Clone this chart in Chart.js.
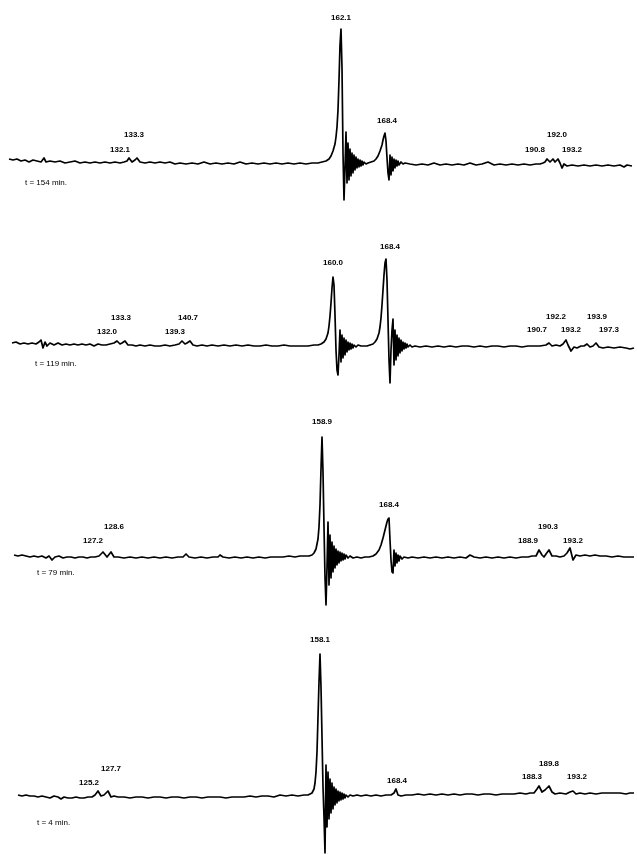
<!DOCTYPE html>
<html lang="en">
<head>
  <meta charset="utf-8">
  <title>Spectra at t = 154, 119, 79, 4 min</title>
  <script src="https://cdn.jsdelivr.net/npm/chart.js@4/dist/chart.umd.min.js"></script>
  <style>
    body { margin: 0; background: #fff; }
    #wrap { position: relative; width: 637px; height: 854px; overflow: hidden; }
    #wrap canvas { position: absolute; left: 0; }
  </style>
</head>
<body>
<div id="wrap">
  <canvas id="s154" width="640" height="214" style="top:0px"></canvas>
  <canvas id="s119" width="640" height="200" style="top:214px"></canvas>
  <canvas id="s79" width="640" height="206" style="top:414px"></canvas>
  <canvas id="s4" width="640" height="234" style="top:620px"></canvas>
</div>
<script>
  // traces: pairs of (position along the chart paper in mm, signal above baseline)
  var trace154 = [
    2.25,4, 3.25,3, 4.25,4, 5.25,2, 6.25,3, 7.25,1, 8.25,3, 9.25,2, 10.25,1, 11,5, 11.5,1, 12.5,2,
    13.75,1, 15,2, 16.25,0, 17.5,1, 18.75,2, 20,0, 21.25,1, 22.5,0, 23.75,1, 25,0, 26.25,1, 27.5,0,
    28.75,1, 30,0, 31,1, 31.75,2, 32.25,5, 33,1, 33.75,3, 34.25,5, 35,1, 36.25,0, 37.5,1, 38.75,0,
    40,1, 41.25,0, 42.5,1, 43.75,-1, 45,0, 46.5,-1, 48,0, 49.5,-1, 51,1, 52.5,-1, 54,0, 55.5,-1,
    57,0, 58.5,-1, 60,1, 61.5,-1, 63,0, 64.5,-1, 66,0, 67.5,-1, 69,0, 70.5,-1, 72,0, 73.5,-1,
    75,0, 76.5,-1, 78,0, 79.5,0, 80.5,1, 81.5,2, 82.25,4, 82.75,7, 83.25,12, 83.75,19, 84,26,
    84.25,36, 84.5,53, 84.75,83, 85,118, 85.25,134, 85.5,95, 85.75,10, 86,-37, 86.25,-5, 86.5,31,
    86.75,-20, 87,20, 87.25,-17, 87.5,14, 87.75,-13, 88,10, 88.25,-10, 88.5,8, 88.75,-7, 89,6,
    89.25,-5, 89.5,4, 89.75,-4, 90,3, 90.25,-3, 90.5,2, 90.75,-2, 91,1, 91.5,-1, 92,0, 92.75,1,
    93.5,2, 94,4, 94.5,7, 95,12, 95.5,18, 95.75,23, 96,27, 96.25,30, 96.5,22, 96.75,5, 97,-10,
    97.25,-17, 97.5,8, 97.75,-12, 98,6, 98.25,-8, 98.5,4, 98.75,-5, 99,3, 99.25,-3, 99.5,2,
    99.75,-2, 100.25,1, 100.75,-1, 101.25,0, 102.5,-1, 104,-2, 105.5,-1, 107,-2, 108.5,0, 110,-2,
    111.5,-1, 113,-2, 114.5,-1, 116,-2, 117.5,0, 119,-2, 120.5,-1, 122,1, 123.5,-2, 125,-1,
    126.5,-2, 128,-1, 129.5,-2, 131,-1, 132.5,-2, 134,-1, 135,-1, 135.75,0, 136.25,1, 136.75,4,
    137.5,1, 138.25,4, 138.75,1, 139.5,4, 140,0, 140.5,-5, 141,-1, 141.75,-3, 143,-2, 144.5,-3,
    146,-2, 147.5,-3, 149,-2, 150.5,-3, 152,-2, 153.5,-3, 155,-2, 156,-4, 156.75,-2, 158,-3
  ];
  var trace119 = [
    3,2, 4,3, 5,1, 6,2, 7,1, 8,2, 9,1, 9.75,3, 10.25,5, 10.75,-3, 11.25,3, 11.75,-1, 12.5,2,
    13.5,0, 14.5,2, 15.5,0, 16.5,1, 17.5,0, 18.5,1, 19.5,0, 20.5,1, 21.5,0, 22.5,1, 23.5,-1,
    24.5,1, 25.5,0, 26.5,0, 27.5,1, 28.5,2, 29.25,4, 30,1, 30.5,2, 31.25,4, 32,0, 33,0, 34,-1,
    35,0, 36.25,-1, 37.5,0, 38.75,-1, 40,-1, 41.25,0, 42.5,-1, 43.75,0, 44.75,1, 45.5,4, 46.25,1,
    46.75,2, 47.5,4, 48.25,0, 49.25,-1, 50.5,0, 51.75,-1, 53,0, 54.5,-1, 56,0, 57.5,-1, 59,0,
    60.5,-1, 62,0, 63.5,-1, 65,-1, 66.5,0, 68,-1, 69.5,-1, 71,0, 72.5,-1, 74,-1, 75.5,-1, 77,-1,
    78.5,0, 79.5,0, 80.25,1, 81,3, 81.5,6, 82,12, 82.25,19, 82.5,29, 82.75,42, 83,57, 83.25,68,
    83.5,60, 83.75,30, 84,-5, 84.25,-25, 84.5,-30, 84.75,-10, 85,15, 85.25,-17, 85.5,10,
    85.75,-13, 86,7, 86.25,-10, 86.5,5, 86.75,-7, 87,3, 87.25,-5, 87.5,2, 87.75,-4, 88,1,
    88.25,-3, 88.5,0, 89,-2, 89.5,0, 90.25,-1, 91,-1, 91.75,-1, 92.5,0, 93.25,1, 93.75,3,
    94.25,6, 94.75,12, 95,18, 95.25,27, 95.5,40, 95.75,55, 96,70, 96.25,82, 96.5,86, 96.75,65,
    97,25, 97.25,-15, 97.5,-38, 97.75,-5, 98,15, 98.25,26, 98.5,-20, 98.75,15, 99,-15, 99.25,10,
    99.5,-11, 99.75,7, 100,-8, 100.25,5, 100.5,-6, 100.75,3, 101,-4, 101.25,2, 101.5,-3,
    101.75,1, 102,-2, 102.5,0, 103,-2, 103.75,-1, 105,-2, 106.5,-1, 108,-2, 109.5,-1, 111,-2,
    112.5,-1, 114,-2, 115.5,-1, 117,-1, 118.5,-2, 120,-1, 121.5,-2, 123,-1, 124.5,-1, 126,-2,
    127.5,-1, 129,-1, 130.5,-2, 132,-1, 133.5,-1, 135,-1, 136.5,0, 137.25,2, 138,-1, 139,0,
    140,-1, 140.75,1, 141.5,5, 142,0, 142.75,-6, 143.5,-2, 144.25,-3, 145.25,-1, 146,-1,
    146.75,1, 147.5,-2, 148.25,-1, 149,2, 149.75,-2, 150.75,-3, 152,-2, 153.5,-3, 155,-2,
    156.5,-3, 157.5,-4, 158.5,-3
  ];
  var trace79 = [
    3.5,2, 4.5,1, 5.5,2, 6.5,1, 7.5,0, 8.5,1, 9.5,0, 10.5,1, 11.5,-1, 12.25,1, 13,-3, 13.75,0,
    14.75,1, 15.75,-1, 16.75,0, 17.75,0, 18.75,-1, 19.75,0, 20.75,0, 21.75,-1, 22.75,0, 23.75,0,
    24.75,1, 25.75,5, 26.75,0, 27.75,5, 28.5,0, 29.5,0, 31,-1, 32.5,0, 34,-1, 35.5,0, 37,-1,
    38.5,0, 40,-1, 41.5,0, 43,-1, 44.5,0, 45.75,0, 46.5,3, 47.25,0, 48.75,-1, 50.25,0, 51.75,-1,
    53.25,0, 54.5,0, 55,2, 55.75,0, 57.25,-1, 58.75,0, 60.25,-1, 61.75,0, 63.25,-1, 64.75,0,
    66.25,-1, 67.75,0, 69.25,0, 70.75,0, 72.25,1, 73.75,0, 75,1, 76.25,1, 77.25,1, 78,2, 78.5,4,
    79,8, 79.5,18, 79.75,30, 80,52, 80.25,88, 80.5,120, 80.75,85, 81,30, 81.25,-20, 81.5,-48,
    81.75,-10, 82,35, 82.25,-28, 82.5,22, 82.75,-21, 83,15, 83.25,-15, 83.5,11, 83.75,-11, 84,8,
    84.25,-8, 84.5,6, 84.75,-6, 85,5, 85.25,-4, 85.5,4, 85.75,-3, 86,3, 86.25,-2, 86.5,2, 87,-1,
    87.5,1, 88.25,-1, 89.25,0, 90.25,-1, 91.25,0, 92.25,0, 93.25,1, 94,3, 94.75,7, 95.25,12,
    95.75,19, 96.25,27, 96.75,35, 97,38, 97.25,39, 97.5,17, 97.75,-3, 98,-15, 98.25,-16, 98.5,7,
    98.75,-9, 99,4, 99.25,-6, 99.5,2, 99.75,-4, 100,1, 100.5,-2, 101,0, 102,-1, 103,0, 104.5,-1,
    106,0, 107.5,-1, 109,0, 110.5,-1, 112,0, 113.5,-1, 115,0, 116.5,-1, 117.5,2, 118.5,0, 120,-1,
    121.5,0, 123,-1, 124.5,0, 126,-1, 127.5,0, 129,-1, 130.5,0, 132,0, 133,1, 134,1, 134.75,7,
    135.5,2, 136,0, 136.5,3, 137.25,7, 138,1, 139,1, 140,0, 141,1, 141.75,4, 142.5,9, 143.25,-3,
    144,2, 145,1, 146.25,2, 147.5,1, 148.75,2, 150,1, 151.5,1, 153,0, 154.5,1, 156,0, 157.5,0,
    158.5,0
  ];
  var trace4 = [
    4.5,2, 5.5,1, 6.5,2, 7.5,1, 8.5,1, 9.5,0, 10.5,1, 11.5,0, 12.5,-1, 13.5,1, 14.5,0, 15.25,-2,
    16,0, 17,-1, 18,-1, 19,0, 20,-1, 21,-1, 22,0, 23,0, 23.75,2, 24.5,6, 25.25,1, 26,2, 27,6,
    27.75,0, 28.5,1, 29.5,0, 31,0, 32.5,-1, 34,0, 35.5,0, 37,-1, 38.5,0, 40,0, 41.5,-1, 43,0,
    44.5,0, 46,-1, 47.5,0, 49,0, 50.5,-1, 52,0, 53.5,0, 55,0, 56.5,-1, 58,0, 59.5,0, 61,0,
    62.5,1, 64,0, 65.5,1, 67,1, 68.5,0, 70,2, 71.5,1, 73,2, 74.5,1, 76,2, 77,2, 77.5,3, 78,4,
    78.5,8, 78.75,14, 79,25, 79.25,45, 79.5,80, 79.75,115, 80,143, 80.25,110, 80.5,60, 80.75,10,
    81,-20, 81.25,-56, 81.5,32, 81.75,-30, 82,25, 82.25,-22, 82.5,18, 82.75,-16, 83,14,
    83.25,-12, 83.5,10, 83.75,-8, 84,8, 84.25,-6, 84.5,6, 84.75,-4, 85,5, 85.25,-3, 85.5,4,
    85.75,-2, 86,3, 86.25,-1, 86.5,2, 87,0, 87.5,2, 88.25,1, 89.25,2, 90.25,1, 91.5,2, 92.75,1,
    94,2, 95.25,1, 96.5,2, 97.75,2, 98.5,4, 99,8, 99.5,2, 100.25,1, 101.5,2, 103,2, 104.5,3,
    106,2, 107.5,3, 109,2, 110.5,3, 112,2, 113.5,3, 115,2, 116.5,3, 118,3, 119.5,2, 121,3,
    122.5,3, 124,2, 125.5,3, 127,3, 128.5,3, 130,4, 131.5,3, 132.5,4, 133.5,4, 134.25,8,
    134.75,11, 135.5,5, 136.25,7, 137.25,11, 138,5, 138.75,3, 140,4, 141.5,3, 142.5,5, 143.25,6,
    144,3, 145,4, 146.25,3, 147.5,4, 149,3, 150.5,4, 152,4, 153.5,4, 155,4, 156.5,3, 157.5,4,
    158.5,4
  ];

  // peak labels: text, position (mm), height of the label centre above baseline
  var peaks154 = ['162.1', '168.4', '133.3', '132.1', '192.0', '190.8', '193.2'];
  var peaks154At = [85.25, 96.75, 33.5, 30, 139.25, 133.75, 143];
  var peaks154Up = [145, 42, 28, 13, 28, 13, 13];

  var peaks119 = ['160.0', '168.4', '133.3', '132.0', '140.7', '139.3', '192.2', '190.7', '193.2', '193.9', '197.3'];
  var peaks119At = [83.25, 97.5, 30.25, 26.75, 47, 43.75, 139, 134.25, 142.75, 149.25, 152.25];
  var peaks119Up = [82, 98, 27, 13, 27, 13, 28, 15, 15, 28, 15];

  var peaks79 = ['158.9', '168.4', '128.6', '127.2', '190.3', '188.9', '193.2'];
  var peaks79At = [80.5, 97.25, 28.5, 23.25, 137, 132, 143.25];
  var peaks79Up = [135, 52, 30, 16, 30, 16, 16];

  var peaks4 = ['158.1', '168.4', '127.7', '125.2', '189.8', '188.3', '193.2'];
  var peaks4At = [80, 99.25, 27.75, 22.25, 137.25, 133, 144.25];
  var peaks4Up = [157, 16, 28, 14, 33, 20, 20];

  var times = ['t = 154 min.', 't = 119 min.', 't = 79 min.', 't = 4 min.'];
  var timesAt = [6.25, 8.75, 9.25, 9.25];
  var timesUp = [-20, -19, -16, -26];

  function toPoints(flat) {
    var pts = [];
    for (var i = 0; i < flat.length; i += 2) pts.push({ x: flat[i], y: flat[i + 1] });
    return pts;
  }

  var labelPlugin = {
    id: 'peakLabels',
    afterDatasetsDraw: function (chart, args, opts) {
      var ctx = chart.ctx, xs = chart.scales.x, ys = chart.scales.y;
      ctx.save();
      ctx.fillStyle = '#000';
      ctx.textAlign = 'center';
      ctx.textBaseline = 'middle';
      ctx.font = 'bold 8px "Liberation Sans", Arial, sans-serif';
      opts.text.forEach(function (t, i) {
        ctx.fillText(t, xs.getPixelForValue(opts.at[i]), ys.getPixelForValue(opts.up[i]));
      });
      ctx.textAlign = 'left';
      ctx.font = '8px "Liberation Sans", Arial, sans-serif';
      ctx.fillText(opts.time, xs.getPixelForValue(opts.timeAt), ys.getPixelForValue(opts.timeUp));
      ctx.restore();
    }
  };

  var panels = [
    { id: 's154', trace: trace154, text: peaks154, at: peaks154At, up: peaks154Up, yMin: -51, yMax: 163 },
    { id: 's119', trace: trace119, text: peaks119, at: peaks119At, up: peaks119Up, yMin: -69, yMax: 131 },
    { id: 's79', trace: trace79, text: peaks79, at: peaks79At, up: peaks79Up, yMin: -63, yMax: 143 },
    { id: 's4', trace: trace4, text: peaks4, at: peaks4At, up: peaks4Up, yMin: -57, yMax: 177 }
  ];

  panels.forEach(function (p, k) {
    new Chart(document.getElementById(p.id), {
      type: 'line',
      data: {
        datasets: [{
          data: toPoints(p.trace),
          borderColor: '#000',
          borderWidth: 1.7,
          borderJoinStyle: 'round',
          pointRadius: 0,
          tension: 0,
          fill: false
        }]
      },
      options: {
        responsive: false,
        animation: false,
        devicePixelRatio: 1,
        layout: { padding: 0 },
        scales: {
          x: { type: 'linear', min: 0, max: 160, display: false },
          y: { min: p.yMin, max: p.yMax, display: false }
        },
        plugins: {
          legend: { display: false },
          tooltip: { enabled: false },
          peakLabels: {
            text: p.text, at: p.at, up: p.up,
            time: times[k], timeAt: timesAt[k], timeUp: timesUp[k]
          }
        }
      },
      plugins: [labelPlugin]
    });
  });
</script>
</body>
</html>
